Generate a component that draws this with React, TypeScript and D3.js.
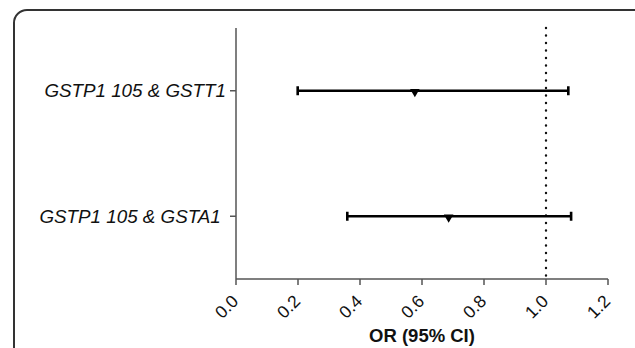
import React, { useRef, useEffect } from 'react';
import * as d3 from 'd3';

const labels = ['GSTP1 105 & GSTT1', 'GSTP1 105 & GSTA1 '];
const orValues = [0.577, 0.686];
const lowerCI = [0.199, 0.359];
const upperCI = [1.072, 1.081];
const xTicks = [0, 0.2, 0.4, 0.6, 0.8, 1.0, 1.2];
const refLine = 1.0;

const App = () => {
  const svgRef = useRef<SVGSVGElement>(null);
  const width = 635;
  const height = 348;

  useEffect(() => {
    const svg = d3.select(svgRef.current);
    svg.selectAll('*').remove();

    const left = 236, right = 608, top = 28, bottom = 279;
    const axisColor = '#555';

    // outer frame
    svg.append('rect')
      .attr('x', 14).attr('y', 10)
      .attr('width', 640).attr('height', 360)
      .attr('rx', 13)
      .attr('fill', 'white')
      .attr('stroke', '#333')
      .attr('stroke-width', 2);

    const x = d3.scaleLinear().domain([0, 1.2]).range([left, right]);
    const y = d3.scalePoint().domain(labels).range([top, bottom]).padding(0.5);

    // reference line
    svg.append('line')
      .attr('x1', x(refLine)).attr('x2', x(refLine))
      .attr('y1', top).attr('y2', bottom - 2)
      .attr('stroke', '#111')
      .attr('stroke-width', 2.4)
      .attr('stroke-linecap', 'round')
      .attr('stroke-dasharray', '0 7.5');

    // axes
    svg.append('line')
      .attr('x1', left).attr('x2', left)
      .attr('y1', top).attr('y2', bottom)
      .attr('stroke', axisColor).attr('stroke-width', 1.5);
    svg.append('line')
      .attr('x1', left).attr('x2', right)
      .attr('y1', bottom).attr('y2', bottom)
      .attr('stroke', axisColor).attr('stroke-width', 1.5);

    // x ticks
    const xt = svg.append('g').selectAll('g').data(xTicks).join('g');
    xt.append('line')
      .attr('x1', d => x(d)).attr('x2', d => x(d))
      .attr('y1', bottom).attr('y2', bottom + 6)
      .attr('stroke', axisColor).attr('stroke-width', 1.5);
    xt.append('text')
      .attr('transform', d => `translate(${x(d) - 1},${bottom + 19}) rotate(-45)`)
      .attr('text-anchor', 'end')
      .attr('dy', '0.35em')
      .attr('font-family', 'Arial, Liberation Sans, sans-serif')
      .attr('font-size', 17.5)
      .attr('fill', '#111')
      .text(d => d.toFixed(1));

    // y ticks
    const yt = svg.append('g').selectAll('g').data(labels).join('g');
    yt.append('line')
      .attr('x1', left - 6).attr('x2', left)
      .attr('y1', d => y(d)).attr('y2', d => y(d))
      .attr('stroke', axisColor).attr('stroke-width', 1.5);
    yt.append('text')
      .attr('x', left - 10)
      .attr('y', d => y(d))
      .attr('dy', '0.35em')
      .attr('text-anchor', 'end')
      .attr('font-family', 'Arial, Liberation Sans, sans-serif')
      .attr('font-style', 'italic')
      .attr('font-size', 18.8)
      .attr('fill', '#111')
      .style('white-space', 'pre')
      .text(d => d);

    // axis title
    svg.append('text')
      .attr('x', (left + right) / 2)
      .attr('y', 342)
      .attr('text-anchor', 'middle')
      .attr('font-family', 'Arial, Liberation Sans, sans-serif')
      .attr('font-weight', 'bold')
      .attr('font-size', 18.5)
      .attr('fill', '#111')
      .text('OR (95% CI)');

    // error bars
    const rows = labels.map((l, i) => ({ l, or: orValues[i], lo: lowerCI[i], hi: upperCI[i] }));
    const g = svg.append('g').selectAll('g').data(rows).join('g');
    g.append('line')
      .attr('x1', d => x(d.lo)).attr('x2', d => x(d.hi))
      .attr('y1', d => y(d.l)).attr('y2', d => y(d.l))
      .attr('stroke', '#000').attr('stroke-width', 2.4);
    [d => x(d.lo), d => x(d.hi)].forEach(fx => {
      g.append('line')
        .attr('x1', fx).attr('x2', fx)
        .attr('y1', d => y(d.l) - 4.5).attr('y2', d => y(d.l) + 4.5)
        .attr('stroke', '#000').attr('stroke-width', 2.6);
    });
    const tri = d3.symbol().type(d3.symbolTriangle).size(40);
    g.append('path')
      .attr('d', tri)
      .attr('transform', d => `translate(${x(d.or)},${y(d.l) + 1}) rotate(180)`)
      .attr('fill', '#000');
  }, []);

  return (
    <div style={{ position: 'absolute', left: 0, top: 0, width, height, overflow: 'hidden' }}>
      <svg ref={svgRef} width={width} height={height} style={{ display: 'block' }} />
    </div>
  );
};

export default App;
